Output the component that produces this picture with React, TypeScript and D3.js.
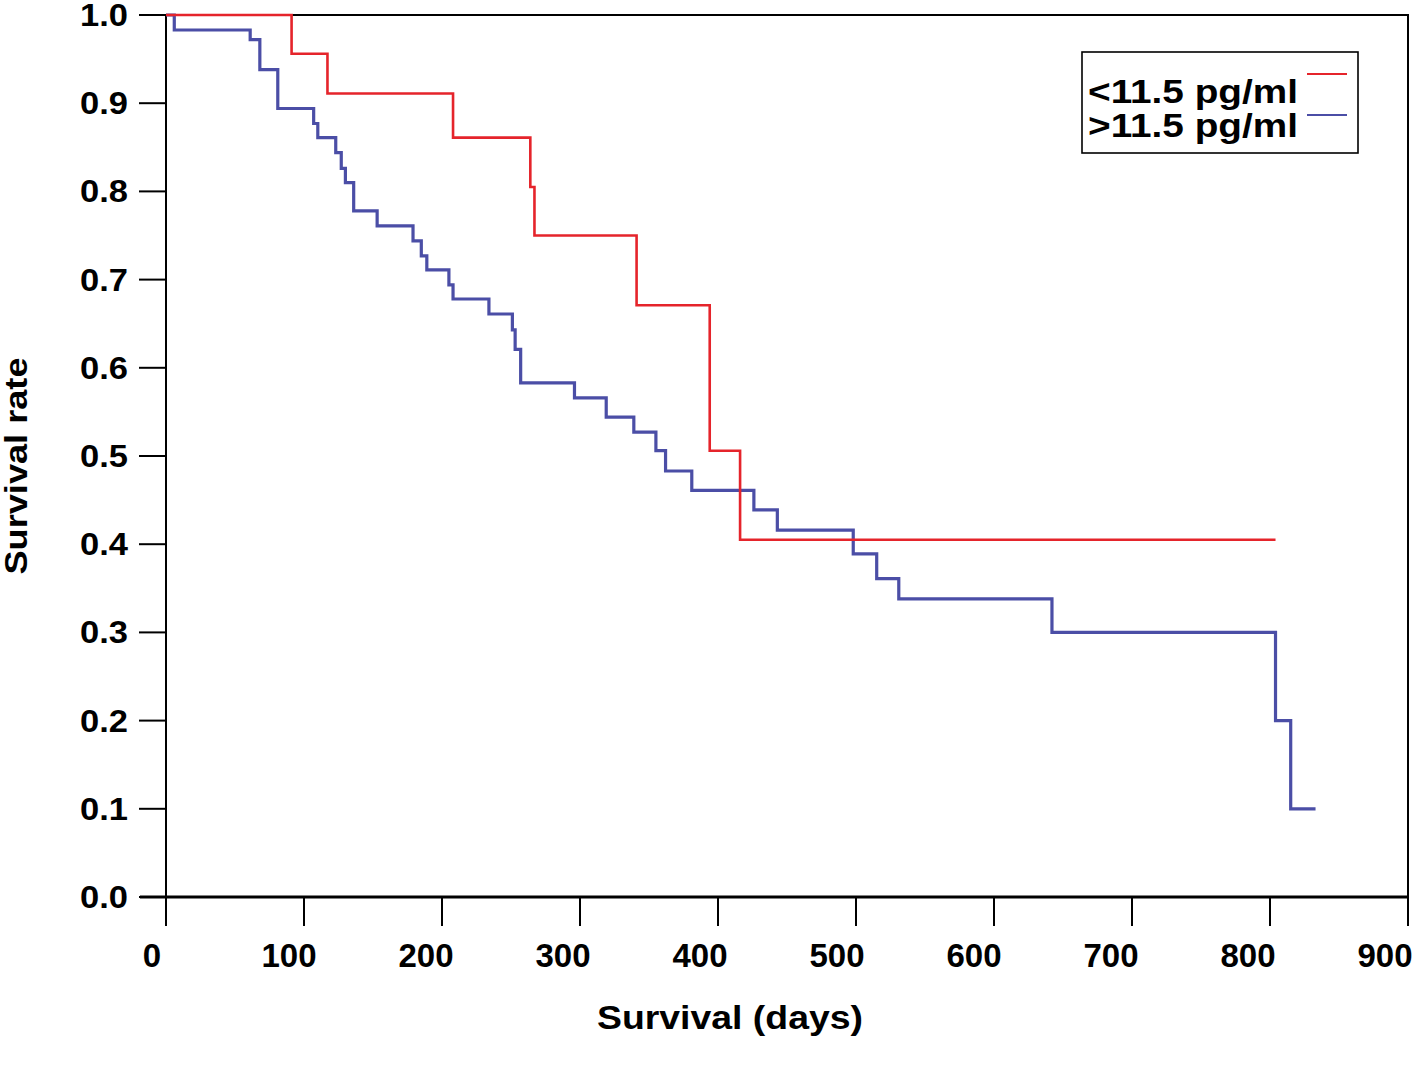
import { useRef, useEffect } from 'react';
import * as d3 from 'd3';

// Kaplan-Meier steps
const lowTimes = [0, 91, 117, 208, 264, 267, 341, 394, 416, 804];
const lowSurv = [1, 0.956, 0.911, 0.861, 0.805, 0.75, 0.671, 0.506, 0.405, 0.405];

const highTimes = [0, 6, 61, 68, 81, 107, 110, 123, 127, 130, 136, 153, 179, 185, 189, 205, 208, 234, 251, 253, 257, 296, 319, 339, 355, 362, 381, 426, 443, 498, 515, 531, 642, 804, 815, 833];
const highSurv = [1, 0.983, 0.972, 0.938, 0.894, 0.877, 0.861, 0.844, 0.826, 0.81, 0.778, 0.761, 0.744, 0.727, 0.711, 0.694, 0.678, 0.661, 0.643, 0.621, 0.583, 0.566, 0.544, 0.527, 0.506, 0.483, 0.461, 0.439, 0.416, 0.389, 0.361, 0.338, 0.3, 0.2, 0.1, 0.1];

const legendLabels = ['<11.5  pg/ml', '>11.5  pg/ml'];
const xTicks = [0, 100, 200, 300, 400, 500, 600, 700, 800, 900];
const yTicks = [0, 0.1, 0.2, 0.3, 0.4, 0.5, 0.6, 0.7, 0.8, 0.9, 1.0];

const W = 1417;
const H = 1080;
const LEFT = 166;
const RIGHT = 1408;
const TOP = 15;
const BOTTOM = 897;
const RED = '#e5242b';
const BLUE = '#4b4ea6';
const FONT = '"Liberation Sans", Arial, sans-serif';

export default function App() {
    const svgRef = useRef<SVGSVGElement>(null);

    useEffect(() => {
        if (!svgRef.current) return;
        const svg = d3.select(svgRef.current);
        svg.selectAll('*').remove();
        svg.attr('width', W).attr('height', H);

        const x = d3.scaleLinear().domain([0, 900]).range([LEFT, RIGHT]);
        const y = d3.scaleLinear().domain([0, 1]).range([BOTTOM, TOP]);

        // frame
        svg.append('rect')
            .attr('x', LEFT).attr('y', TOP)
            .attr('width', RIGHT - LEFT).attr('height', BOTTOM - TOP)
            .attr('fill', 'none').attr('stroke', '#000').attr('stroke-width', 2);
        svg.append('line')
            .attr('x1', LEFT - 26).attr('x2', RIGHT + 1)
            .attr('y1', BOTTOM).attr('y2', BOTTOM)
            .attr('stroke', '#000').attr('stroke-width', 3);

        // y axis ticks + labels
        yTicks.forEach(t => {
            svg.append('line')
                .attr('x1', LEFT - 27).attr('x2', LEFT)
                .attr('y1', y(t)).attr('y2', y(t))
                .attr('stroke', '#000').attr('stroke-width', 2);
            svg.append('text')
                .attr('x', 128).attr('y', y(t) + 11)
                .attr('text-anchor', 'end')
                .attr('font-family', FONT).attr('font-weight', 700)
                .attr('font-size', '31px')
                .attr('textLength', 48).attr('lengthAdjust', 'spacingAndGlyphs')
                .text(t.toFixed(1));
        });

        // x axis ticks + labels
        xTicks.forEach(t => {
            svg.append('line')
                .attr('x1', x(t)).attr('x2', x(t))
                .attr('y1', BOTTOM).attr('y2', BOTTOM + 29)
                .attr('stroke', '#000').attr('stroke-width', 2);
            svg.append('text')
                .attr('x', x(t) - 14 - t * 0.01).attr('y', 967)
                .attr('text-anchor', 'middle')
                .attr('font-family', FONT).attr('font-weight', 700)
                .attr('font-size', '33px')
                .text(t);
        });

        // axis titles
        svg.append('text')
            .attr('x', 730).attr('y', 1029)
            .attr('text-anchor', 'middle')
            .attr('font-family', FONT).attr('font-weight', 700)
            .attr('font-size', '33px')
            .attr('textLength', 266).attr('lengthAdjust', 'spacingAndGlyphs')
            .text('Survival (days)');
        svg.append('text')
            .attr('transform', 'translate(27,466) rotate(-90)')
            .attr('text-anchor', 'middle')
            .attr('font-family', FONT).attr('font-weight', 700)
            .attr('font-size', '32px')
            .attr('textLength', 217).attr('lengthAdjust', 'spacingAndGlyphs')
            .text('Survival rate');

        // survival curves
        const line = d3.line<[number, number]>()
            .x(d => x(d[0]))
            .y(d => y(d[1]))
            .curve(d3.curveStepAfter);

        const highPts = highTimes.map((t, i) => [t, highSurv[i]] as [number, number]);
        const lowPts = lowTimes.map((t, i) => [t, lowSurv[i]] as [number, number]);

        svg.append('path')
            .attr('d', line(highPts) ?? '')
            .attr('fill', 'none').attr('stroke', BLUE)
            .attr('stroke-width', 3.2);
        svg.append('path')
            .attr('d', line(lowPts) ?? '')
            .attr('fill', 'none').attr('stroke', RED)
            .attr('stroke-width', 2.6);

        // legend
        svg.append('rect')
            .attr('x', 1082).attr('y', 52)
            .attr('width', 276).attr('height', 101)
            .attr('fill', '#fff').attr('stroke', '#000').attr('stroke-width', 1.6);
        const colors = [RED, BLUE];
        legendLabels.forEach((lab, i) => {
            svg.append('text')
                .attr('x', 1088).attr('y', 103 + i * 34)
                .attr('font-family', FONT).attr('font-weight', 700)
                .attr('font-size', '33px')
                .attr('textLength', 210).attr('lengthAdjust', 'spacingAndGlyphs')
                .text(lab);
            svg.append('line')
                .attr('x1', 1307).attr('x2', 1347)
                .attr('y1', 74 + i * 41).attr('y2', 74 + i * 41)
                .attr('stroke', colors[i]).attr('stroke-width', 2);
        });
    }, []);

    return (
        <div style={{ position: 'absolute', left: 0, top: 0, width: W, height: H, background: '#fff' }}>
            <svg ref={svgRef} style={{ display: 'block' }} />
        </div>
    );
}
